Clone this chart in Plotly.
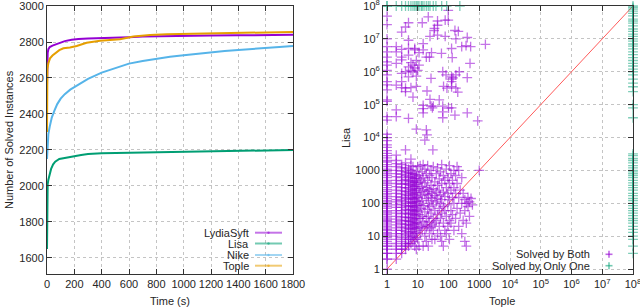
import plotly.graph_objects as go

# ---------------- Left chart data (cactus plot) ----------------
lydia_t = [0, 1, 2, 5, 10, 20, 40, 60, 90, 130, 180, 230, 300, 400, 500, 600, 700, 800, 1000, 1200, 1400, 1600, 1800]
lydia_v = [2560, 2650, 2700, 2740, 2760, 2772, 2780, 2786, 2795, 2805, 2812, 2817, 2819, 2820, 2821, 2826, 2830, 2832, 2834, 2836, 2837, 2838, 2840]

lisa_t = [0, 1, 2, 5, 10, 20, 30, 45, 60, 90, 120, 160, 200, 250, 300, 400, 600, 800, 1000, 1200, 1400, 1600, 1800]
lisa_v = [1650, 1900, 1980, 2010, 2035, 2068, 2095, 2120, 2135, 2150, 2155, 2160, 2165, 2172, 2178, 2182, 2184, 2188, 2191, 2194, 2196, 2198, 2200]

nike_t = [0, 2, 5, 10, 20, 35, 55, 75, 100, 130, 170, 220, 300, 400, 500, 600, 700, 800, 900, 1000, 1100, 1200, 1300, 1400, 1500, 1600, 1700, 1800]
nike_v = [2150, 2200, 2250, 2290, 2330, 2380, 2420, 2455, 2485, 2510, 2535, 2560, 2595, 2630, 2655, 2680, 2695, 2708, 2718, 2727, 2736, 2743, 2750, 2756, 2760, 2765, 2772, 2778]

tople_t = [0, 1, 3, 10, 22, 40, 58, 90, 120, 168, 217, 290, 388, 450, 534, 632, 754, 876, 1000, 1120, 1363, 1600, 1800]
tople_v = [2300, 2600, 2650, 2683, 2709, 2725, 2737, 2755, 2765, 2769, 2778, 2796, 2807, 2810, 2815, 2830, 2839, 2843, 2845, 2848, 2852, 2854, 2856]

series_names = ["LydiaSyft", "Lisa", "Nike", "Tople"]
left_xticks = [0, 200, 400, 600, 800, 1000, 1200, 1400, 1600, 1800]
left_yticks = [1600, 1800, 2000, 2200, 2400, 2600, 2800, 3000]

# ---------------- Right chart data (scatter Tople vs Lisa) ----------------
both_tople = (
    [1] * 62 +
    [1] * 22 +
    [2] * 32 + [3] * 27 + [4] * 24 + [5] * 22 + [6] * 20 + [7] * 18 + [8] * 17 + [9] * 17 +
    [10] * 6 + [11] * 6 + [12] * 6 + [13] * 4 + [14] * 5 + [15] * 6 + [17] * 6 + [19] * 6 +
    [21] * 5 + [22] * 4 + [24] * 5 + [27] * 5 + [29] * 5 + [32] * 5 + [36] * 5 + [40] * 4 +
    [44] * 5 + [50] * 4 + [55] * 5 + [60] * 5 + [68] * 5 + [76] * 4 + [85] * 4 + [95] * 4 +
    [107] * 5 + [120] * 4 + [135] * 3 + [150] * 4 + [170] * 3 + [190] * 3 + [215] * 3 + [240] * 2 +
    [270] * 3 + [300] * 2 + [340] * 3 + [380] * 3 + [430] * 2 + [480] * 2 + [540, 600, 1000] +
    [5, 4, 3, 14, 22, 44, 44, 78, 98, 98, 34, 35, 44, 78, 25, 5, 162, 209, 174, 407, 1585,
     269, 372, 525, 126, 2, 2, 3, 5, 8, 8, 15, 15, 11, 5, 3, 19, 24, 28, 59, 132, 501, 9, 6,
     7, 5, 6, 7, 8, 10, 11, 3, 2, 3, 4, 5, 9, 27, 65, 83, 126, 126, 126, 140, 174, 224, 407,
     2, 3, 4, 3, 6, 9, 4, 7, 20, 69, 89, 126, 174, 200, 25, 50, 15, 15, 15, 27, 32, 30, 65,
     65, 65, 126, 100, 162, 407, 2, 2, 5, 891, 9, 19, 20, 17, 31, 4, 2, 6]
)
both_lisa = (
    [1, 2, 2, 3, 3, 4, 5, 5, 6, 7, 8, 9, 10, 11, 12, 13, 15, 16, 18, 20, 22, 25, 28, 30, 33, 36,
     40, 45, 50, 55, 60, 70, 80, 90, 100, 110, 120, 140, 160, 180, 200, 230, 260, 300, 350, 400,
     450, 500, 600, 700, 800, 900, 1000, 1100, 1300, 1500, 1800, 2000, 2400, 2800, 3300, 4000] +
    [5000, 6000, 8000, 10000, 12600, 34000, 43000, 126000, 140000, 280000, 400000, 500000,
     800000, 1100000, 1600000, 2000000, 2800000, 4000000, 5800000, 10000000, 27000000, 49000000] +
    [2, 3, 4, 5, 6, 8, 10, 12, 15, 18, 22, 27, 33, 40, 50, 60, 75, 90, 110, 130, 160, 200, 250,
     320, 400, 500, 650, 800, 1000, 1300, 1600, 2000] +
    [3, 4, 5, 7, 9, 12, 15, 19, 24, 30, 38, 48, 60, 75, 95, 120, 150, 190, 240, 300, 380, 480,
     600, 760, 950, 1200, 1500] +
    [4, 5, 6, 8, 11, 14, 18, 23, 30, 38, 50, 65, 85, 110, 140, 180, 230, 300, 400, 520, 700, 900,
     1200, 1700] +
    [5, 6, 8, 10, 13, 17, 22, 28, 36, 47, 60, 80, 100, 130, 170, 220, 290, 380, 500, 650, 850, 1100] +
    [6, 9, 12, 16, 21, 28, 37, 50, 65, 85, 110, 150, 200, 260, 350, 460, 600, 800, 1000, 1400] +
    [7, 10, 14, 19, 25, 33, 45, 60, 80, 105, 140, 190, 250, 330, 440, 580, 780, 1300] +
    [5, 8, 12, 17, 23, 31, 42, 56, 75, 100, 135, 180, 240, 320, 430, 570, 760] +
    [4, 9, 13, 18, 26, 35, 48, 64, 86, 115, 155, 210, 280, 370, 500, 670, 900] +
    [8, 25, 60, 150, 400, 1300] + [5, 18, 45, 110, 280, 700] + [12, 35, 90, 220, 550, 1400] +
    [20, 70, 170, 450] + [15, 40, 120, 320, 900] + [5, 28, 85, 250, 600, 1500] +
    [10, 22, 55, 190, 420, 1100] + [7, 18, 35, 140, 300, 800] + [20, 65, 230, 500, 1400] +
    [5, 40, 100, 180] + [12, 27, 80, 260, 700] + [18, 50, 150, 350, 1000] + [8, 22, 120, 200, 600] +
    [15, 35, 90, 280, 1300] + [8, 25, 60, 170, 450] + [30, 110, 220, 800] +
    [12, 45, 140, 350, 1200] + [20, 70, 250, 550] + [10, 35, 100, 180, 900] +
    [7, 50, 130, 400, 1500] + [5, 25, 80, 220, 700] + [15, 60, 160, 500] + [12, 40, 300, 1100] +
    [20, 90, 200, 600] + [8, 30, 130, 400, 1400] + [25, 60, 250, 800] + [45, 150, 500] +
    [15, 100, 300, 1000] + [35, 200, 700] + [70, 400, 1300] + [20, 150, 1000] + [50, 250] +
    [12, 100, 600] + [30, 200] + [7, 60, 130] + [5, 25, 100] + [80, 150] + [40, 110] +
    [140, 90, 1000] +
    [31000000, 23000000, 16000000, 31000000, 47000000, 35000000, 26000000, 37000000, 37000000,
     74000000, 18000000, 21000000, 13000000, 12000000, 12000000, 9100000, 18000000, 17000000,
     10000000, 11000000, 6800000, 5800000, 6200000, 5800000, 5100000, 5800000, 4000000, 4800000,
     5100000, 5100000, 4600000, 7200000, 4600000, 3800000, 3200000, 2800000, 2800000, 2800000,
     3800000, 3600000, 2700000, 1800000, 2200000, 1900000, 1600000, 1400000, 1100000, 1000000,
     1300000, 1100000, 1600000, 2300000, 1800000, 890000, 1000000, 700000, 740000, 630000,
     1000000, 800000, 600000, 500000, 700000, 650000, 800000, 1000000, 660000, 390000, 500000,
     320000, 330000, 330000, 360000, 250000, 170000, 260000, 360000, 320000, 350000, 320000,
     240000, 145000, 140000, 95000, 76000, 56000, 90000, 90000, 80000, 90000, 60000, 40000,
     80000, 79000, 48000, 56000, 69000, 43000, 38000, 32000, 18000, 17000, 12000, 8300, 4200,
     4200, 2900, 2200]
)

only_tople = (
    [1, 1, 2, 3, 4, 5, 6, 7, 8, 9, 10, 11, 13, 14, 16, 19, 22, 25, 32, 39, 60, 87, 234] +
    [100000000] * 72
)
only_lisa = (
    [100000000] * 23 +
    [100000000, 90000000, 80000000, 70000000, 60000000, 50000000, 40000000, 35000000, 30000000,
     25000000, 20000000, 17000000, 14000000, 12000000, 10000000, 8500000, 7000000, 6000000,
     5000000, 4000000, 3300000, 2700000, 2200000, 1800000, 1500000, 1200000, 1000000, 800000,
     600000, 450000, 350000, 250000, 100000, 80000, 40000, 3200, 2800, 2300, 2000, 1700, 1400,
     1200, 1000, 900, 800, 700, 600, 500, 420, 350, 300, 250, 200, 170, 140, 120, 100, 85, 70,
     60, 50, 42, 35, 30, 25, 20, 16, 13, 10, 8, 5, 3]
)

diag_vals = [1, 100000000]
log_tickvals = [1, 10, 100, 1000, 1e4, 1e5, 1e6, 1e7, 1e8]
log_ticktext = ["1", "10", "100", "1000", "10<sup>4</sup>", "10<sup>5</sup>",
                "10<sup>6</sup>", "10<sup>7</sup>", "10<sup>8</sup>"]
right_legend = ["Solved by Both", "Solved by Only One"]

# ---------------- Styles ----------------
W, H = 640, 307
FONT = "Liberation Sans, Arial, sans-serif"
TXT = "#262626"
colors = ["#9400d3", "#009e73", "#56b4e9", "#e69f00"]
colors_light = ["rgba(148,0,211,0.55)", "rgba(0,158,115,0.55)", "rgba(86,180,233,0.55)", "rgba(230,159,0,0.55)"]
both_col = "rgba(148,0,211,0.55)"
only_col = "rgba(0,158,115,0.5)"


def px(x):
    return x / W


def py(y):
    return 1 - y / H


fig = go.Figure()

left_series = [(lydia_t, lydia_v), (lisa_t, lisa_v), (nike_t, nike_v), (tople_t, tople_v)]
for (t, v), name, c in zip(left_series, series_names, colors):
    fig.add_trace(go.Scatter(x=t, y=v, mode="lines", name=name,
                             line=dict(color=c, width=2), xaxis="x", yaxis="y",
                             showlegend=False, hoverinfo="skip"))

fig.add_trace(go.Scatter(x=diag_vals, y=diag_vals, mode="lines",
                         line=dict(color="#ff5a5a", width=1), xaxis="x2", yaxis="y2",
                         showlegend=False, hoverinfo="skip"))
fig.add_trace(go.Scatter(x=both_tople, y=both_lisa, mode="markers", name=right_legend[0],
                         marker=dict(symbol="cross-thin-open", size=7, color=both_col,
                                     line=dict(color=both_col, width=1.3)),
                         xaxis="x2", yaxis="y2", showlegend=False, cliponaxis=False,
                         hoverinfo="skip"))
fig.add_trace(go.Scatter(x=only_tople, y=only_lisa, mode="markers", name=right_legend[1],
                         marker=dict(symbol="cross-thin-open", size=7, color=only_col,
                                     line=dict(color=only_col, width=1.3)),
                         xaxis="x2", yaxis="y2", showlegend=False, cliponaxis=False,
                         hoverinfo="skip"))

axis_common = dict(showline=True, linecolor="#333", linewidth=1, mirror="allticks",
                   ticks="inside", ticklen=5, tickcolor="#333", showgrid=True,
                   gridcolor="#c4c4c4", griddash="dot", gridwidth=1, zeroline=False,
                   automargin=False, ticklabeloverflow="allow",
                   tickfont=dict(family=FONT, size=11, color=TXT))

ydom = [py(274), py(6)]
fig.update_layout(
    template="none",
    width=W, height=H, margin=dict(l=0, r=0, t=0, b=0, pad=0),
    paper_bgcolor="white", plot_bgcolor="white", showlegend=False,
    xaxis=dict(domain=[px(47), px(293)], range=[0, 1800], tickvals=left_xticks, anchor="y",
               **axis_common),
    yaxis=dict(domain=ydom, range=[1511, 3000], tickvals=left_yticks, anchor="x",
               **axis_common),
    xaxis2=dict(domain=[px(383), px(633)], type="log", range=[-0.13, 8],
                tickvals=log_tickvals, ticktext=log_ticktext, anchor="y2", **axis_common),
    yaxis2=dict(domain=ydom, type="log", range=[-0.15, 8],
                tickvals=log_tickvals, ticktext=log_ticktext, anchor="x2", **axis_common),
)

annotations = []
shapes = []
tfont = dict(family=FONT, size=11, color=TXT)

# axis titles
annotations.append(dict(x=px(170), y=py(301), xref="paper", yref="paper", text="Time (s)",
                        showarrow=False, font=tfont, xanchor="center", yanchor="middle"))
annotations.append(dict(x=px(9), y=py(140), xref="paper", yref="paper",
                        text="Number of Solved Instances", textangle=-90,
                        showarrow=False, font=tfont, xanchor="center", yanchor="middle"))
annotations.append(dict(x=px(502), y=py(301), xref="paper", yref="paper", text="Tople",
                        showarrow=False, font=tfont, xanchor="center", yanchor="middle"))
annotations.append(dict(x=px(346), y=py(138), xref="paper", yref="paper", text="Lisa",
                        textangle=-90, showarrow=False, font=tfont,
                        xanchor="center", yanchor="middle"))

# left legend (white box, text then line sample)
shapes.append(dict(type="rect", xref="paper", yref="paper", x0=px(200), x1=px(291),
                   y0=py(269), y1=py(226), fillcolor="white", line=dict(width=0),
                   layer="between"))
leg_y = [232.7, 243.5, 255, 265.7]
for name, c, yy in zip(series_names, colors_light, leg_y):
    annotations.append(dict(x=px(251), y=py(yy), xref="paper", yref="paper", text=name,
                            showarrow=False, font=tfont, xanchor="right", yanchor="middle"))
    shapes.append(dict(type="line", xref="paper", yref="paper", x0=px(255), x1=px(282),
                       y0=py(yy), y1=py(yy), line=dict(color=c, width=2)))
    shapes.append(dict(type="circle", xref="paper", yref="paper", x0=px(267.3), x1=px(269.7),
                       y0=py(yy + 1.2), y1=py(yy - 1.2), fillcolor=c, line=dict(width=0)))

# right legend
shapes.append(dict(type="rect", xref="paper", yref="paper", x0=px(505), x1=px(628),
                   y0=py(271), y1=py(248), fillcolor="white", line=dict(width=0),
                   layer="between"))
rleg_y = [254.3, 265.7]
rleg_c = ["rgba(148,0,211,0.6)", "rgba(0,158,115,0.55)"]
for name, c, yy in zip(right_legend, rleg_c, rleg_y):
    annotations.append(dict(x=px(592), y=py(yy), xref="paper", yref="paper", text=name,
                            showarrow=False, font=tfont, xanchor="right", yanchor="middle"))
    shapes.append(dict(type="line", xref="paper", yref="paper", x0=px(605.5), x1=px(612.5),
                       y0=py(yy), y1=py(yy), line=dict(color=c, width=1.6)))
    shapes.append(dict(type="line", xref="paper", yref="paper", x0=px(609), x1=px(609),
                       y0=py(yy + 3.5), y1=py(yy - 3.5), line=dict(color=c, width=1.6)))

fig.update_layout(annotations=annotations, shapes=shapes)
fig.write_html("out.html", config={"displayModeBar": False},
               post_script="document.body.style.margin='0px';")
